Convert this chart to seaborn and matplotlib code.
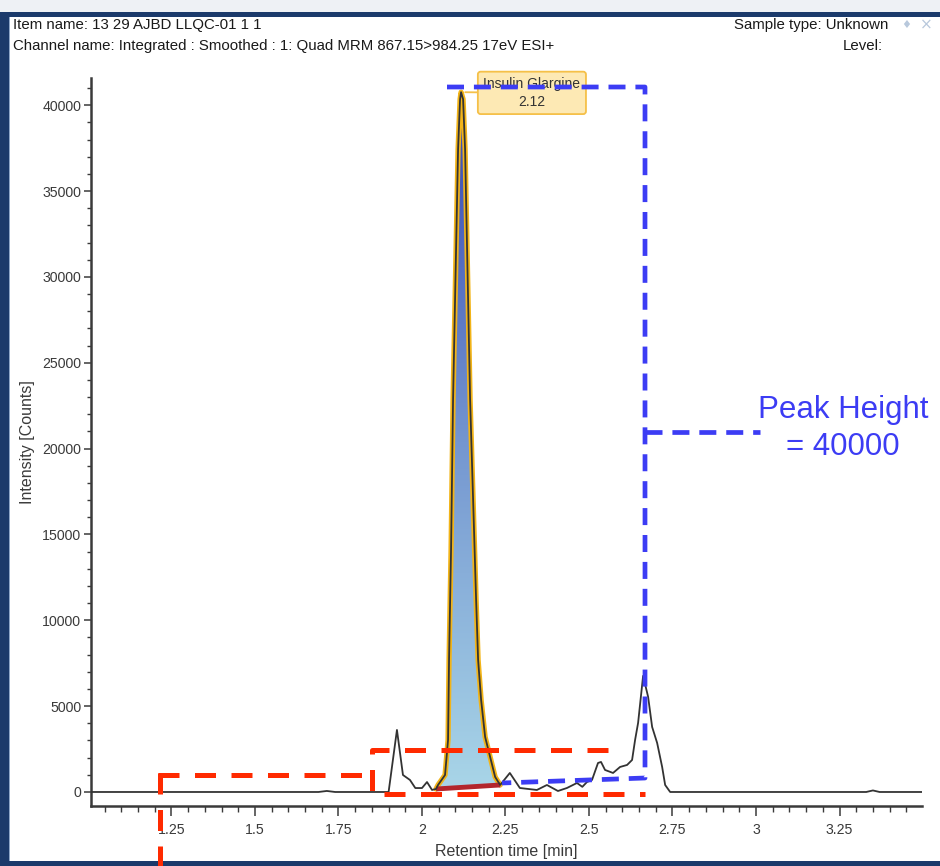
import numpy as np
import pandas as pd
import matplotlib
matplotlib.use("Agg")
import matplotlib.pyplot as plt
import seaborn as sns
from matplotlib.lines import Line2D
from matplotlib.patches import Rectangle, Polygon
from matplotlib.colors import LinearSegmentedColormap

# ---------------- data ----------------
time_min = [1.00, 1.69, 1.715, 1.74, 1.90, 1.925, 1.943, 1.964, 1.98, 2.000,
            2.015, 2.030, 2.042, 2.048, 2.069, 2.078, 2.081, 2.087, 2.093, 2.102,
            2.108, 2.114, 2.117, 2.123, 2.129, 2.135, 2.144, 2.153, 2.162, 2.168,
            2.177, 2.189, 2.204, 2.219, 2.234, 2.263, 2.293, 2.344, 2.374, 2.407,
            2.434, 2.464, 2.480, 2.494, 2.509, 2.527, 2.536, 2.548, 2.572, 2.593,
            2.614, 2.629, 2.638, 2.647, 2.662, 2.677, 2.689, 2.704, 2.719, 2.728,
            2.743, 3.33, 3.35, 3.37, 3.497]
intensity = [0, 0, 60, 0, 0, 3615, 990, 700, 230, 230,
             580, 120, 175, 408, 991, 3032, 7697, 14111, 22857, 31603,
             37434, 40350, 40758, 40350, 37434, 31603, 22857, 17026, 11195, 7697,
             5364, 3207, 2041, 875, 408, 1108, 233, 117, 408, 58,
             233, 525, 300, 583, 700, 1691, 1749, 1283, 1108, 1458,
             1574, 1866, 3032, 4023, 6764, 5539, 3790, 2857, 1458, 408,
             0, 0, 90, 0, 0]

compound = "Insulin Glargine"
rt_label = "2.12"
peak_start, peak_end = 2.042, 2.234
base_start, base_end = 175, 408

x_ticks = [1.25, 1.5, 1.75, 2.0, 2.25, 2.5, 2.75, 3.0, 3.25]
x_tick_labels = ["1.25", "1.5", "1.75", "2", "2.25", "2.5", "2.75", "3", "3.25"]
y_ticks = [0, 5000, 10000, 15000, 20000, 25000, 30000, 35000, 40000]

df = pd.DataFrame({"t": time_min, "i": intensity})

# ---------------- figure ----------------
W, H = 940, 866
sns.set_style("ticks")
plt.rcParams["font.family"] = ["Liberation Sans", "DejaVu Sans"]
fig = plt.figure(figsize=(W / 100, H / 100), dpi=100)

def fx(px):
    return px / W

def fy(py):
    return 1 - py / H

ax = fig.add_axes([fx(91), fy(806), fx(922) - fx(91), fy(78) - fy(806)])
ax.set_xlim(1.009, 3.497)
ax.set_ylim(-816, 41584)

# gradient-filled integrated peak
m = (df.t >= peak_start) & (df.t <= peak_end)
pk = df[m]
poly_xy = list(zip(pk.t, pk.i)) + [(peak_end, base_end), (peak_start, base_start)]
poly = Polygon(poly_xy, closed=True, facecolor="none", edgecolor="none",
               transform=ax.transData)
ax.add_patch(poly)
cmap = LinearSegmentedColormap.from_list("pk", ["#a9d6e8", "#7496d0", "#3646b2"])
grad = np.linspace(0, 1, 256).reshape(-1, 1)
im = ax.imshow(grad, cmap=cmap, origin="lower", aspect="auto",
               extent=[peak_start, peak_end, 0, max(intensity)], zorder=1)
im.set_clip_path(poly)
ax.plot(pk.t, pk.i, color="#f2b418", lw=3.8, zorder=2, solid_capstyle="round")
ax.plot([peak_start, peak_end], [base_start, base_end], color="#b3262c",
        lw=3.5, zorder=3, solid_capstyle="butt")

# chromatogram trace
sns.lineplot(data=df, x="t", y="i", ax=ax, color="#333333", lw=1.3,
             sort=False, estimator=None, zorder=4)

# peak label
ax.annotate(f"{compound}\n{rt_label}", xy=(2.117, 40758), xytext=(51, -0.5),
            textcoords="offset points", ha="center", va="center",
            fontsize=10, color="#333333", linespacing=1.3,
            bbox=dict(boxstyle="round,pad=0.4,rounding_size=0.2",
                      fc="#fde9b4", ec="#f5c048", lw=1.3),
            arrowprops=dict(arrowstyle="-", color="#f5c048", lw=1.3,
                            shrinkA=0, shrinkB=3), zorder=5)

# axes styling
ax.set_xticks(x_ticks)
ax.set_xticklabels(x_tick_labels)
ax.set_xticks(np.arange(1.05, 3.5, 0.05), minor=True)
ax.set_yticks(y_ticks)
ax.set_yticklabels([str(v) for v in y_ticks])
ax.set_yticks(np.arange(0, 41001, 1000), minor=True)
for s in ["top", "right"]:
    ax.spines[s].set_visible(False)
for s in ["left", "bottom"]:
    ax.spines[s].set_color("#3a3a3a")
    ax.spines[s].set_linewidth(1.8)
ax.tick_params(axis="both", which="both", bottom=True, left=True, top=False, right=False)
ax.tick_params(axis="both", which="major", direction="out", length=5, width=1.1,
               color="#3a3a3a", labelsize=10.2, labelcolor="#3a3a3a", pad=2)
ax.tick_params(axis="both", which="minor", direction="out", length=3, width=1.0,
               color="#3a3a3a")
ax.tick_params(axis="x", which="major", length=7, pad=5)
ax.tick_params(axis="x", which="minor", length=4)
ax.set_xlabel("Retention time [min]", fontsize=11.5, color="#3a3a3a", labelpad=5)
ax.set_ylabel("Intensity [Counts]", fontsize=11.5, color="#3a3a3a", labelpad=5)
ax.grid(False)

# header texts
hdr = dict(fontsize=10.8, color="#1a1a1a", family=["Liberation Sans"])
fig.text(fx(13), fy(25), "Item name: 13 29 AJBD LLQC-01 1 1", ha="left", va="center", **hdr)
fig.text(fx(13), fy(46), "Channel name: Integrated : Smoothed : 1: Quad MRM 867.15>984.25 17eV ESI+",
         ha="left", va="center", **hdr)
fig.text(fx(888), fy(25), "Sample type: Unknown", ha="right", va="center", **hdr)
fig.text(fx(883), fy(46), "Level:", ha="right", va="center", **hdr)
fig.text(fx(906), fy(25), "\u2666", ha="center", va="center", fontsize=8, color="#b8c8dc",
         family="DejaVu Sans")
fig.text(fx(926), fy(25), "\u00d7", ha="center", va="center", fontsize=11, color="#b8c8dc",
         family="DejaVu Sans")

# window frame
navy = "#1b3a6b"
fig.add_artist(Rectangle((0, fy(12)), 1, fy(0) - fy(12), transform=fig.transFigure,
                         fc="#eef1f5", ec="none", zorder=0))
fig.add_artist(Rectangle((0, fy(17)), 1, fy(12) - fy(17), transform=fig.transFigure,
                         fc=navy, ec="none", zorder=0))
fig.add_artist(Rectangle((0, 0), fx(9), fy(12), transform=fig.transFigure,
                         fc=navy, ec="none", zorder=0))
fig.add_artist(Rectangle((fx(9), 0), fx(1.2), fy(17), transform=fig.transFigure,
                         fc="#8ea6c8", ec="none", zorder=0))
fig.add_artist(Rectangle((0, 0), 1, fy(861), transform=fig.transFigure,
                         fc=navy, ec="none", zorder=0))

# hand-drawn dashed overlays (figure pixel coordinates)
blue = "#3c3cf4"
red = "#ff2a00"

def dline(pts, color, lw, dashes):
    xs = [fx(p[0]) for p in pts]
    ys = [fy(p[1]) for p in pts]
    ln = Line2D(xs, ys, transform=fig.transFigure, color=color, lw=lw,
                dashes=dashes, solid_joinstyle="miter", dash_capstyle="butt", zorder=10)
    fig.add_artist(ln)

dline([(447, 87), (645, 87), (645, 778), (502, 783)], blue, 3.4, (3.6, 2.1))
dline([(645, 432), (760, 432)], blue, 3.4, (3.6, 2.1))
dline([(158, 775), (372, 775)], red, 3.6, (4.2, 3.1))
dline([(160, 773), (160, 866)], red, 3.6, (4.2, 3.1))
dline([(608, 750), (372, 750), (372, 794), (645, 794)], red, 3.6, (4.2, 3.1))

fig.text(fx(843), fy(410), "Peak Height", ha="center", va="center", fontsize=22.5,
         color=blue, family="Liberation Sans")
fig.text(fx(843), fy(447), "= 40000", ha="center", va="center", fontsize=22.5,
         color=blue, family="Liberation Sans")

fig.savefig("out.png", dpi=100)
